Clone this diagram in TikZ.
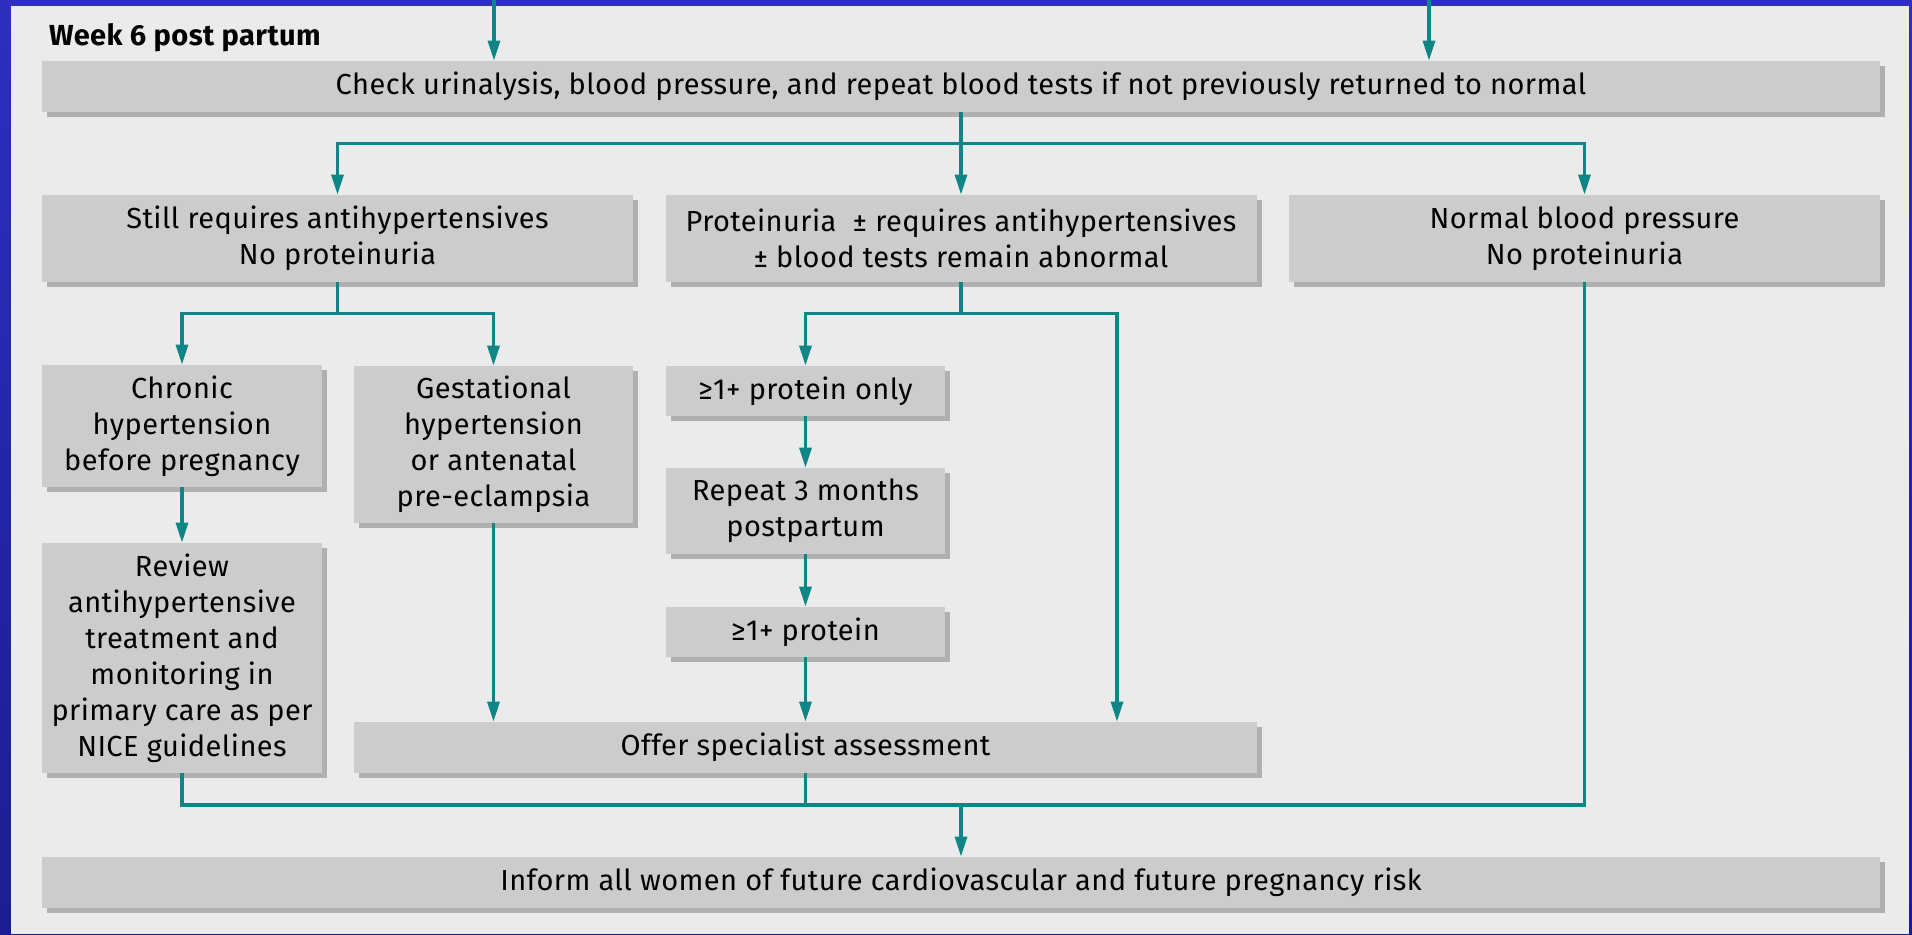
\documentclass[tikz,border=0pt]{standalone}
\usepackage{fontspec}
\setmainfont[LetterSpace=1.5]{Fira Sans}
\usetikzlibrary{arrows.meta,shadows}
\definecolor{flowteal}{HTML}{0E8686}
\definecolor{boxgray}{HTML}{CCCCCC}
\definecolor{shadegray}{HTML}{B0B0B0}
\definecolor{panelgray}{HTML}{EBEBEB}
\definecolor{frametop}{HTML}{2E2EC0}
\definecolor{framebottom}{HTML}{1C1C92}

\begin{document}
\begin{tikzpicture}[x=0.5pt,y=-0.5pt,
    box/.style={fill=boxgray,inner sep=0pt,align=center,
      font=\fontsize{14.5}{18}\selectfont,
      drop shadow={shadow xshift=2.5pt,shadow yshift=-2.5pt,fill=shadegray,opacity=1}},
    flow/.style={draw=flowteal,line width=1.6pt},
    >={Triangle[length=10pt,width=6pt]}]
  \useasboundingbox (0,0) rectangle (1912,934);
  \fill[top color=frametop,bottom color=framebottom] (0,0) rectangle (1912,934);
  \fill[panelgray] (11,6) rectangle (1909,934);
  \node[anchor=base west,font=\bfseries\fontsize{14.5}{17}\selectfont] (title) at (42,45) {Week 6 post partum};

  \node[box,minimum width=919pt,minimum height=25.5pt] (check) at (961,86.5)
    {Check urinalysis, blood pressure, and repeat blood tests if not previously returned to normal};
  \node[box,minimum width=295.5pt,minimum height=43.5pt] (still) at (337.5,238.5)
    {Still requires antihypertensives\\No proteinuria};
  \node[box,minimum width=295.5pt,minimum height=43.5pt] (prot) at (961,238.5)
    {Proteinuria~ ± requires antihypertensives\\± blood tests remain abnormal};
  \node[box,minimum width=295.5pt,minimum height=43.5pt] (normal) at (1584.5,238.5)
    {Normal blood pressure\\No proteinuria};
  \node[box,minimum width=140pt,minimum height=61pt] (chronic) at (182,426)
    {Chronic\\hypertension\\before pregnancy};
  \node[box,minimum width=139.5pt,minimum height=78.5pt] (gest) at (493.5,444.5)
    {Gestational\\hypertension\\or antenatal\\pre-eclampsia};
  \node[box,minimum width=140pt,minimum height=115pt] (review) at (182,658)
    {Review\\antihypertensive\\treatment and\\monitoring in\\primary care as per\\NICE guidelines};
  \node[box,minimum width=139.5pt,minimum height=25pt] (prot1) at (805.5,391) {≥1+ protein only};
  \node[box,minimum width=139.5pt,minimum height=43pt] (repeat) at (805.5,511)
    {Repeat 3 months\\postpartum};
  \node[box,minimum width=139.5pt,minimum height=25pt] (prot2) at (805.5,632) {≥1+ protein};
  \node[box,minimum width=451.5pt,minimum height=25.5pt] (offer) at (805.5,747.5)
    {Offer specialist assessment};
  \node[box,minimum width=919pt,minimum height=25.5pt] (inform) at (961,882.5)
    {Inform all women of future cardiovascular and future pregnancy risk};

  % arrows coming in from above
  \coordinate (in1) at (494,0);
  \coordinate (in2) at (1429,0);
  \draw[flow,->] (in1) -- (in1 |- check.north);
  \draw[flow,->] (in2) -- (in2 |- check.north);

  \draw[flow] (check.south) -- ++(0,31) coordinate (s1);
  \draw[flow,->] (s1) -| (still.north);
  \draw[flow,->] (s1) -- (prot.north);
  \draw[flow,->] (s1) -| (normal.north);

  \draw[flow] (still.south) -- ++(0,31) coordinate (s2);
  \draw[flow,->] (s2) -| (chronic.north);
  \draw[flow,->] (s2) -| (gest.north);
  \draw[flow,->] (chronic) -- (review);
  \draw[flow,->] (gest) -- (offer.north -| gest);

  \draw[flow] (prot.south) -- ++(0,31) coordinate (s3);
  \coordinate (s4) at (1117,313);
  \draw[flow,->] (s3) -| (prot1.north);
  \draw[flow,->] (s3) -| (offer.north -| s4);
  \draw[flow,->] (prot1) -- (repeat);
  \draw[flow,->] (repeat) -- (prot2);
  \draw[flow,->] (prot2) -- (offer.north -| prot2);

  % everything meets above the last box
  \coordinate (c) at (961,805);
  \draw[flow] (review.south) -- (review.south |- c) -- (normal.south |- c) -- (normal.south);
  \draw[flow] (offer.south) -- (offer.south |- c);
  \draw[flow,->] (c) -- (inform.north);
\end{tikzpicture}
\end{document}
